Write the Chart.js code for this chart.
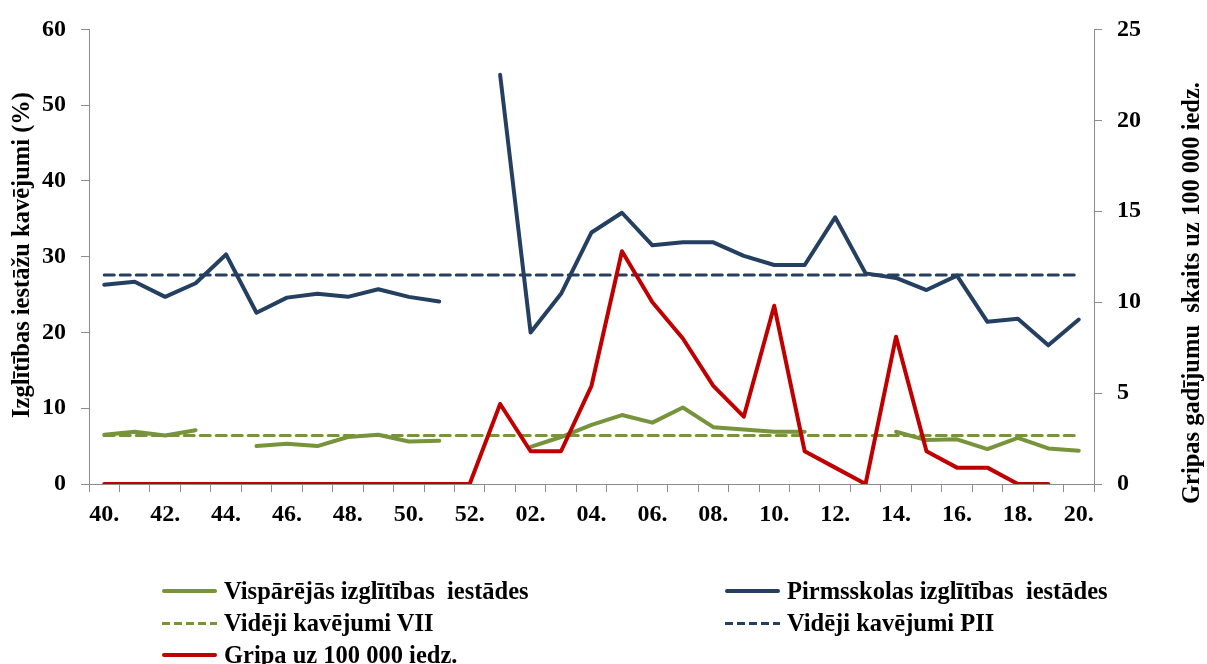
<!DOCTYPE html>
<html>
<head>
<meta charset="utf-8">
<script src="https://cdn.jsdelivr.net/npm/chart.js@4.4.1/dist/chart.umd.min.js"></script>
<style>
  body { margin: 0; background: #fff; }
  #wrap { position: relative; width: 1207px; height: 664px; overflow: hidden; font-family: 'Liberation Serif', 'Times New Roman', serif; }
  #legend { position: absolute; left: 0; top: 0; width: 1207px; height: 664px; pointer-events: none; }
  .item { position: absolute; display: flex; align-items: center; height: 32px; font-weight: bold; font-size: 24.5px; white-space: pre; color: #000; }
  .swatch { width: 55px; height: 4px; margin-right: 7px; border-radius: 2px; }
</style>
</head>
<body>
<div id="wrap">
  <canvas id="kavejumiChart" width="1207" height="664"></canvas>
  <div id="legend"></div>
</div>
<script>
// nedēļas: 40.-52. un 01.-20.
const weeks = ['40.', '41.', '42.', '43.', '44.', '45.', '46.', '47.', '48.', '49.', '50.', '51.', '52.',
  '01.', '02.', '03.', '04.', '05.', '06.', '07.', '08.', '09.', '10.', '11.', '12.', '13.', '14.', '15.',
  '16.', '17.', '18.', '19.', '20.'];

// kavējumi (%)
const visparejas = [6.5, 6.9, 6.4, 7.1, null, 5.0, 5.3, 5.0, 6.2, 6.5, 5.6, 5.7, null,
  null, 4.9, 6.2, 7.8, 9.1, 8.1, 10.1, 7.5, 7.2, 6.9, 6.9, null, null, 6.9, 5.8, 5.9, 4.6, 6.1, 4.7, 4.4];
const pirmsskolas = [26.3, 26.7, 24.7, 26.5, 30.3, 22.6, 24.6, 25.1, 24.7, 25.7, 24.7, 24.1, null,
  54.0, 20.0, 25.1, 33.2, 35.8, 31.5, 31.9, 31.9, 30.1, 28.9, 28.9, 35.2, 27.8, 27.2, 25.6, 27.5, 21.4, 21.8, 18.3, 21.7];
const videjiVII = 6.4;
const videjiPII = 27.6;

// gripa uz 100 000 iedz.
const gripa = [0, 0, 0, 0, 0, 0, 0, 0, 0, 0, 0, 0, 0,
  4.4, 1.8, 1.8, 5.4, 12.8, 10.0, 8.0, 5.4, 3.7, 9.8, 1.8, 0.9, 0, 8.1, 1.8, 0.9, 0.9, 0, 0, null];

const leftTicks = [0, 10, 20, 30, 40, 50, 60];
const rightTicks = [0, 5, 10, 15, 20, 25];

const FONT = "'Liberation Serif', 'Times New Roman', serif";
const GREEN = '#77933C';
const BLUE = '#243F60';
const RED = '#C00000';
const AXIS = '#8C8C8C';

function meanLine(v) {
  return [{ x: weeks[0], y: v }, { x: weeks[weeks.length - 1], y: v }];
}

// asu nosaukumi (labā ass lasāma no apakšas uz augšu)
const axisTitles = {
  id: 'axisTitles',
  afterDraw(chart) {
    const ctx = chart.ctx;
    ctx.save();
    ctx.font = 'bold 24.5px ' + FONT;
    ctx.fillStyle = '#000';
    ctx.textAlign = 'center';
    ctx.textBaseline = 'middle';
    ctx.translate(23, 255);
    ctx.rotate(-Math.PI / 2);
    ctx.fillText('Izglītības iestāžu kavējumi (%)', 0, 0);
    ctx.restore();

    ctx.save();
    ctx.font = 'bold 24.5px ' + FONT;
    ctx.fillStyle = '#000';
    ctx.textAlign = 'center';
    ctx.textBaseline = 'middle';
    ctx.translate(1193, 293);
    ctx.rotate(-Math.PI / 2);
    ctx.fillText('Gripas gadījumu  skaits uz 100 000 iedz.', 0, 0);
    ctx.restore();
  }
};

const tickFont = { family: FONT, size: 24, weight: 'bold' };

const chart = new Chart(document.getElementById('kavejumiChart').getContext('2d'), {
  type: 'line',
  data: {
    labels: weeks,
    datasets: [
      { label: 'Vispārējās izglītības  iestādes', data: visparejas, borderColor: GREEN, borderWidth: 4, yAxisID: 'y', order: 1 },
      { label: 'Pirmsskolas izglītības  iestādes', data: pirmsskolas, borderColor: BLUE, borderWidth: 4, yAxisID: 'y', order: 1 },
      { label: 'Vidēji kavējumi VII', data: meanLine(videjiVII), borderColor: GREEN, borderWidth: 3, borderDash: [10, 6], yAxisID: 'y', order: 2 },
      { label: 'Vidēji kavējumi PII', data: meanLine(videjiPII), borderColor: BLUE, borderWidth: 3, borderDash: [10, 6], yAxisID: 'y', order: 2 },
      { label: 'Gripa uz 100 000 iedz.', data: gripa, borderColor: RED, borderWidth: 4, yAxisID: 'y1', order: 0 }
    ]
  },
  options: {
    responsive: false,
    animation: false,
    spanGaps: false,
    elements: { point: { radius: 0 }, line: { tension: 0, borderJoinStyle: 'round', borderCapStyle: 'round' } },
    layout: { padding: { top: 24, bottom: 130, left: 0, right: 0 } },
    plugins: { legend: { display: false }, tooltip: { enabled: false } },
    scales: {
      x: {
        type: 'category',
        offset: true,
        grid: { offset: true, drawOnChartArea: false, drawTicks: true, tickLength: 8, color: AXIS },
        border: { display: true, color: AXIS, width: 1 },
        ticks: {
          autoSkip: false, maxRotation: 0, minRotation: 0, padding: 8, color: '#000', font: tickFont,
          callback: (v, i) => (i % 2 === 0 ? weeks[i] : '')
        },
        afterFit: (s) => { s.height = 50; }
      },
      y: {
        position: 'left',
        min: 0, max: 60,
        afterBuildTicks: (s) => { s.ticks = leftTicks.map(v => ({ value: v })); },
        grid: { drawOnChartArea: false, drawTicks: true, tickLength: 8, color: AXIS },
        border: { display: true, color: AXIS, width: 1 },
        ticks: { padding: 15, color: '#000', font: tickFont },
        afterFit: (s) => { s.width = 89; }
      },
      y1: {
        position: 'right',
        min: 0, max: 25,
        afterBuildTicks: (s) => { s.ticks = rightTicks.map(v => ({ value: v })); },
        grid: { drawOnChartArea: false, drawTicks: true, tickLength: 8, color: AXIS },
        border: { display: true, color: AXIS, width: 1 },
        ticks: { padding: 15, color: '#000', font: tickFont },
        afterFit: (s) => { s.width = 113; }
      }
    }
  },
  plugins: [axisTitles]
});

// leģenda divās kolonnās, kā oriģinālā
const legend = document.getElementById('legend');
const colLeft = [162, 725];
chart.data.datasets.forEach((ds, i) => {
  const item = document.createElement('div');
  item.className = 'item';
  item.style.left = colLeft[i % 2] + 'px';
  item.style.top = (575 + Math.floor(i / 2) * 32) + 'px';
  const sw = document.createElement('span');
  sw.className = 'swatch';
  if (ds.borderDash) {
    sw.style.height = '3px';
    sw.style.borderRadius = '0';
    sw.style.background = 'repeating-linear-gradient(to right, ' + ds.borderColor + ' 0 8px, transparent 8px 12px)';
  } else {
    sw.style.background = ds.borderColor;
  }
  const txt = document.createElement('span');
  txt.textContent = ds.label;
  item.appendChild(sw);
  item.appendChild(txt);
  legend.appendChild(item);
});
</script>
</body>
</html>
